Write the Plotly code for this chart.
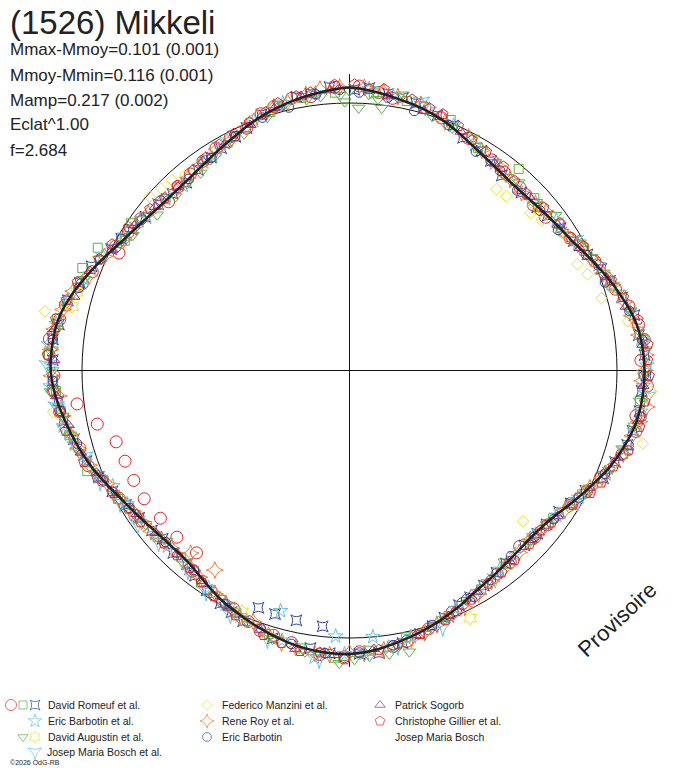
import plotly.graph_objects as go

W, H = 688, 768

# --- fitted light curve (phase angle in degrees, radius relative to the mean circle) ---
fit_theta = [0, 5, 10, 15, 20, 25, 30, 35, 40, 45, 50, 55, 60, 65, 70, 75, 80, 85,
             90, 95, 100, 105, 110, 115, 120, 125, 130, 135, 140, 145, 150, 155, 160, 165,
             170, 175, 180, 185, 190, 195, 200, 205, 210, 215, 220, 225, 230, 235, 240, 245,
             250, 255, 260, 265, 270, 275, 280, 285, 290, 295, 300, 305, 310, 315, 320, 325,
             330, 335, 340, 345, 350, 355, 360]
fit_r = [1.058, 1.047, 1.032, 1.018, 1.000, 0.976, 0.953, 0.937, 0.927, 0.927, 0.935, 0.947,
         0.964, 0.992, 1.024, 1.055, 1.084, 1.098, 1.103, 1.100, 1.090, 1.068, 1.040, 1.005,
         0.972, 0.942, 0.925, 0.922, 0.927, 0.937, 0.950, 0.972, 0.994, 1.014, 1.032, 1.050,
         1.060, 1.058, 1.050, 1.035, 1.017, 0.998, 0.979, 0.955, 0.937, 0.935, 0.942, 0.957,
         0.976, 1.003, 1.032, 1.057, 1.080, 1.103, 1.117, 1.115, 1.105, 1.078, 1.043, 1.008,
         0.976, 0.955, 0.940, 0.934, 0.935, 0.945, 0.961, 0.980, 1.002, 1.020, 1.036, 1.048,
         1.058]

# --- observations (angle deg, relative radius) ---
romeuf_circ_theta = [2, 9, 16, 27, 34, 43, 52, 59, 66, 73, 81, 88, 93, 99, 107, 113, 121, 128,
                     136, 144, 151, 157, 163, 171, 178, 186, 192, 199, 206, 212, 218, 236, 246,
                     254, 262, 269, 276, 283, 291, 298, 306, 313, 321, 329, 337, 344, 352,
                     220, 226, 232, 238, 243, 248, 253, 258, 263, 297,
                     6, 20, 38, 48, 62, 77, 84, 102, 117, 132, 140, 154, 168, 181, 196, 202,
                     209, 241, 250, 266, 273, 280, 288, 302, 317, 325, 333, 341, 348, 357]
romeuf_circ_r = [1.064, 1.030, 1.022, 0.975, 0.950, 0.935, 0.930, 0.962, 1.004, 1.040, 1.094,
                 1.090, 1.115, 1.084, 1.066, 1.020, 0.965, 0.938, 0.915, 0.940, 0.962, 0.982,
                 1.010, 1.045, 1.052, 1.068, 1.040, 1.028, 0.990, 0.975, 0.952, 0.968, 1.010,
                 1.050, 1.095, 1.105, 1.128, 1.090, 1.030, 0.990, 0.965, 0.925, 0.945, 0.970,
                 0.984, 1.026, 1.034,
                 0.890, 0.897, 0.897, 0.905, 0.905, 0.905, 0.912, 0.964, 1.026, 0.967,
                 1.045, 1.005, 0.940, 0.925, 0.985, 1.072, 1.108, 1.095, 0.995, 0.932, 0.935,
                 0.968, 1.035, 1.070, 1.030, 1.012, 0.985, 0.985, 1.040, 1.110, 1.125, 1.100,
                 1.050, 0.975, 0.940, 0.955, 0.980, 1.015, 1.040, 1.060]

romeuf_sq_theta = [5, 22, 40, 47, 63, 84, 96, 118, 133, 149, 168, 183, 197, 215, 229, 241, 249,
                   257, 266, 273, 287, 291, 296, 304, 326, 343, 357,
                   12, 30, 55, 72, 90, 107, 126, 141, 158, 176, 190, 205, 222, 235, 262, 280,
                   300, 313, 334, 350]
romeuf_sq_r = [1.040, 1.010, 0.984, 0.945, 0.985, 1.105, 1.092, 0.985, 0.930, 0.955, 1.020,
               1.075, 1.030, 0.968, 0.950, 0.990, 1.050, 1.075, 1.100, 1.125, 1.060, 1.070,
               1.047, 0.985, 0.950, 1.010, 1.040,
               1.030, 0.960, 0.955, 1.030, 1.110, 1.070, 0.940, 0.930, 0.990, 1.050, 1.055,
               1.000, 0.940, 0.960, 1.090, 1.110, 0.970, 0.940, 0.975, 1.035]

romeuf_xs_theta = [1, 8, 14, 19, 26, 31, 38, 49, 56, 64, 71, 79, 87, 94, 102, 109, 117, 124,
                   131, 141, 148, 155, 162, 169, 174, 181, 188, 196, 203, 209, 217, 224, 231,
                   239, 247, 256, 264, 272, 279, 288, 297, 303, 311, 319, 327, 334, 341, 349,
                   356, 186, 192, 197, 201,
                   4, 11, 23, 34, 44, 52, 60, 68, 75, 83, 91, 98, 105, 113, 121, 128, 135,
                   144, 152, 159, 165, 178, 184, 206, 213, 220, 228, 235, 243, 251, 260, 268,
                   276, 284, 292, 300, 307, 315, 323, 330, 337, 345, 352]
romeuf_xs_r = [1.050, 1.045, 1.030, 1.008, 0.968, 0.958, 0.925, 0.930, 0.952, 0.990, 1.030,
               1.085, 1.105, 1.095, 1.082, 1.050, 0.990, 0.945, 0.930, 0.928, 0.948, 0.968,
               1.005, 1.038, 1.062, 1.070, 1.048, 1.042, 1.018, 0.995, 0.960, 0.948, 0.950,
               0.975, 1.018, 1.062, 1.095, 1.110, 1.100, 1.060, 1.000, 0.968, 0.948, 0.930,
               0.950, 0.972, 1.012, 1.042, 1.062, 0.962, 0.955, 0.952, 0.950,
               1.058, 1.038, 0.995, 0.945, 0.925, 0.940, 0.968, 1.015, 1.055, 1.090, 1.110,
               1.095, 1.075, 1.030, 0.965, 0.935, 0.925, 0.935, 0.960, 0.990, 1.020, 1.060,
               1.060, 1.005, 0.980, 0.945, 0.940, 0.960, 0.995, 1.040, 1.085, 1.110, 1.115,
               1.085, 1.040, 0.985, 0.955, 0.935, 0.940, 0.960, 0.985, 1.025, 1.045]

barbotin_al_theta = [4, 17, 29, 41, 54, 67, 78, 89, 98, 106, 119, 132, 143, 156, 167, 177, 187,
                     194, 204, 213, 226, 235, 244, 251, 259, 267, 275, 284, 295, 307, 318, 332,
                     346, 196, 175, 183,
                     9, 23, 35, 47, 61, 72, 84, 93, 102, 112, 125, 138, 150, 161, 172, 181,
                     208, 219, 230, 239, 247, 255, 263, 271, 279, 289, 301, 313, 325, 339, 353]
barbotin_al_r = [1.055, 1.020, 0.965, 0.935, 0.955, 1.010, 1.070, 1.112, 1.100, 1.070, 0.980,
                 0.925, 0.932, 0.975, 1.022, 1.060, 1.080, 1.040, 1.005, 0.968, 0.945, 0.965,
                 0.985, 1.045, 1.090, 1.120, 1.130, 1.085, 1.018, 0.950, 0.930, 0.975, 1.030,
                 0.935, 1.000, 0.995,
                 1.040, 0.995, 0.945, 0.930, 0.975, 1.035, 1.095, 1.100, 1.090, 1.035, 0.945,
                 0.925, 0.955, 1.000, 1.045, 1.060, 0.990, 0.955, 0.950, 0.970, 1.020, 1.065,
                 1.100, 1.115, 1.110, 1.050, 0.980, 0.940, 0.950, 1.000, 1.045]

augustin_tri_theta = [0, 6, 11, 18, 23, 28, 35, 42, 48, 53, 61, 69, 74, 82, 91, 101, 111, 122,
                      134, 147, 159, 170, 179, 182, 189, 202, 211, 221, 233, 242, 253, 261, 270,
                      278, 289, 299, 302, 309, 315, 323, 328, 336, 342, 351, 358, 2, 7, 359,
                      168, 172,
                      4, 15, 31, 39, 57, 65, 78, 86, 96, 106, 116, 128, 141, 153, 164, 176,
                      186, 196, 207, 216, 227, 238, 248, 257, 266, 274, 283, 294, 306, 319,
                      332, 346, 354]
augustin_tri_r = [1.045, 1.020, 1.050, 1.000, 0.985, 0.985, 0.950, 0.945, 0.940, 0.965, 0.985,
                  1.018, 1.052, 1.090, 1.100, 1.085, 1.038, 0.968, 0.925, 0.945, 0.995, 1.048,
                  1.080, 1.095, 1.065, 1.015, 0.978, 0.950, 0.955, 0.998, 1.055, 1.085, 1.110,
                  1.105, 1.048, 0.980, 0.955, 0.925, 0.920, 0.925, 0.945, 0.968, 0.995, 1.025,
                  1.030, 0.982, 0.988, 1.005, 1.075, 1.070,
                  1.035, 1.030, 0.962, 0.930, 0.950, 1.000, 1.075, 1.110, 1.090, 1.060, 1.000,
                  0.935, 0.920, 0.965, 1.025, 1.070, 1.070, 1.045, 0.990, 0.960, 0.935, 0.975,
                  1.025, 1.070, 1.120, 1.115, 1.090, 1.025, 0.960, 0.925, 0.960, 1.020, 1.030]

augustin_star_theta = [283, 204, 154, 286, 50]
augustin_star_r = [1.064, 0.987, 1.030, 1.060, 0.930]

bosch_al_theta = [197, 206, 213, 219, 228, 234, 240, 246, 252, 258, 263, 271, 186, 170, 160,
                  145, 120, 95, 60, 15, 330]
bosch_al_r = [1.050, 1.015, 0.985, 0.960, 0.960, 0.978, 0.990, 1.020, 1.040, 1.085, 1.105,
              1.130, 1.085, 1.045, 1.020, 0.950, 0.985, 1.120, 0.975, 1.040, 0.965]

manzini_theta = [39, 42, 49, 52, 57, 65, 68, 74, 80, 94, 100, 104, 117, 131, 311, 314, 317,
                 320, 281, 262]
manzini_r = [0.873, 0.876, 0.898, 0.912, 0.945, 0.940, 0.960, 0.980, 1.057, 1.130, 1.090,
             1.130, 0.984, 0.860, 0.990, 0.978, 0.973, 0.954, 1.160, 1.118]

roy_theta = [3, 10, 21, 27, 36, 44, 51, 58, 65, 72, 79, 87, 92, 97, 103, 110, 116, 123, 129,
             137, 142, 150, 154, 161, 167, 173, 180, 187, 194, 201, 208, 216, 225, 231, 237,
             245, 250, 257, 265, 274, 282, 290, 300, 308, 316, 324, 333, 340, 347, 354, 214,
             221,
             7, 15, 31, 40, 48, 61, 69, 76, 83, 90, 100, 107, 113, 120, 133, 146, 157, 164,
             177, 184, 191, 197, 204, 211, 219, 228, 234, 241, 254, 261, 269, 278, 286, 295,
             304, 312, 320, 329, 337, 344, 351, 358]
roy_r = [1.060, 1.040, 0.995, 0.980, 0.945, 0.925, 0.945, 0.955, 0.995, 1.035, 1.075, 1.110,
         1.095, 1.120, 1.085, 1.045, 1.000, 0.960, 0.935, 0.930, 0.940, 0.965, 0.985, 1.005,
         1.030, 1.052, 1.055, 1.065, 1.050, 1.005, 0.985, 0.955, 0.940, 0.955, 0.965, 1.000,
         1.035, 1.070, 1.090, 1.120, 1.095, 1.035, 0.975, 0.955, 0.935, 0.950, 0.970, 1.010,
         1.030, 1.058, 0.900, 0.905,
         1.050, 1.030, 0.960, 0.935, 0.935, 0.975, 1.015, 1.060, 1.090, 1.105, 1.100, 1.070,
         1.025, 0.975, 0.925, 0.950, 0.990, 1.020, 1.060, 1.065, 1.055, 1.035, 1.010, 0.975,
         0.945, 0.945, 0.960, 0.985, 1.055, 1.085, 1.115, 1.115, 1.075, 1.010, 0.965, 0.945,
         0.940, 0.965, 0.990, 1.025, 1.045, 1.060]

barbotin_theta = [2, 14, 30, 43, 56, 71, 84, 99, 112, 126, 139, 153, 171, 185, 199, 218, 238,
                  255, 268, 287, 300, 312, 327, 341, 353, 347,
                  8, 22, 37, 50, 64, 78, 91, 105, 119, 132, 146, 162, 178, 192, 208, 227, 246,
                  262, 276, 294, 306, 320, 334, 358]
barbotin_r = [1.040, 1.000, 0.945, 0.920, 0.940, 1.010, 1.100, 1.105, 1.030, 0.945, 0.920,
              0.960, 1.040, 1.060, 1.020, 0.945, 0.970, 1.055, 1.110, 1.058, 0.985, 0.950,
              0.948, 1.000, 1.040, 1.009,
              1.030, 0.990, 0.935, 0.930, 0.985, 1.070, 1.100, 1.080, 0.980, 0.930, 0.945,
              1.000, 1.055, 1.045, 0.990, 0.940, 1.010, 1.090, 1.115, 1.020, 0.960, 0.935,
              0.975, 1.050]

sogorb_theta = [8, 25, 46, 62, 77, 93, 108, 125, 140, 158, 175, 191, 207, 223, 236, 248, 259,
                272, 285, 297, 310, 325, 338, 350,
                16, 35, 55, 70, 85, 100, 116, 133, 150, 166, 183, 199, 215, 230, 242, 253,
                265, 278, 291, 304, 317, 331, 344, 356]
sogorb_r = [1.035, 0.985, 0.935, 0.975, 1.060, 1.100, 1.055, 0.950, 0.930, 0.990, 1.045,
            1.060, 0.995, 0.940, 0.960, 1.020, 1.070, 1.105, 1.065, 0.995, 0.950, 0.955,
            0.990, 1.040,
            1.010, 0.945, 0.950, 1.020, 1.100, 1.095, 1.000, 0.930, 0.955, 1.020, 1.065,
            1.025, 0.960, 0.945, 0.990, 1.050, 1.100, 1.115, 1.040, 0.970, 0.940, 0.965,
            1.020, 1.050]

gillier_theta = [1, 7, 13, 20, 24, 32, 37, 45, 50, 55, 62, 67, 75, 80, 85, 91, 96, 101, 106,
                 114, 121, 127, 134, 139, 147, 152, 159, 165, 174, 181, 190, 198, 205, 211,
                 219, 227, 234, 243, 251, 258, 266, 273, 280, 288, 294, 303, 309, 317, 322,
                 330, 338, 345, 352, 357,
                 4, 17, 28, 41, 59, 71, 88, 99, 110, 117, 130, 143, 156, 170, 186, 194, 215,
                 223, 238, 247, 262, 277, 284, 298, 313, 326, 334, 342, 349]
gillier_r = [1.070, 1.060, 1.040, 1.020, 1.000, 0.965, 0.955, 0.935, 0.948, 0.960, 0.990,
             1.010, 1.060, 1.095, 1.120, 1.120, 1.110, 1.105, 1.085, 1.030, 0.975, 0.945,
             0.935, 0.940, 0.950, 0.970, 1.000, 1.020, 1.050, 1.080, 1.065, 1.040, 1.010,
             0.985, 0.950, 0.948, 0.965, 0.995, 1.050, 1.085, 1.110, 1.130, 1.115, 1.070,
             1.025, 0.985, 0.960, 0.945, 0.950, 0.975, 1.000, 1.035, 1.050, 1.070,
             1.055, 1.025, 0.975, 0.940, 0.965, 1.035, 1.115, 1.100, 1.050, 1.010, 0.930,
             0.945, 0.985, 1.040, 1.060, 1.050, 0.965, 0.945, 0.975, 1.025, 1.095, 1.120,
             1.090, 1.005, 0.945, 0.960, 0.985, 1.015, 1.045]

axis_extent = [1.108, 1.108]

title = "(1526) Mikkeli"
stats_lines = ["Mmax-Mmoy=0.101 (0.001)", "Mmoy-Mmin=0.116 (0.001)",
               "Mamp=0.217 (0.002)", "Eclat^1.00", "f=2.684"]

RED = "#e8222a"
GREEN = "#5cb444"
BLUE = "#3346a2"
CYAN = "#5ec6e2"
YELLOW = "#f2e21c"
ORANGE = "#f27a28"
PURPLE = "#a2287e"

series = [
    (romeuf_circ_theta, romeuf_circ_r, "circle-open", RED, 12),
    (romeuf_sq_theta, romeuf_sq_r, "square-open", GREEN, 9),
    (romeuf_xs_theta, romeuf_xs_r, "star-square-open", BLUE, 10),
    (barbotin_al_theta, barbotin_al_r, "star-open", CYAN, 11),
    (augustin_tri_theta, augustin_tri_r, "triangle-down-open", GREEN, 11),
    (augustin_star_theta, augustin_star_r, "hexagram-open", YELLOW, 11),
    (bosch_al_theta, bosch_al_r, "star-triangle-down-open", CYAN, 12),
    (manzini_theta, manzini_r, "diamond-open", YELLOW, 9),
    (roy_theta, roy_r, "star-diamond-open", ORANGE, 12),
    (barbotin_theta, barbotin_r, "octagon-open", BLUE, 10),
    (sogorb_theta, sogorb_r, "triangle-up-open", PURPLE, 10),
    (gillier_theta, gillier_r, "pentagon-open", RED, 11),
]

fig = go.Figure()

# axes through the centre
fig.add_trace(go.Scatterpolar(r=axis_extent, theta=[0, 180], mode="lines",
                              line=dict(color="#111", width=1), hoverinfo="skip"))
fig.add_trace(go.Scatterpolar(r=axis_extent, theta=[90, 270], mode="lines",
                              line=dict(color="#111", width=1), hoverinfo="skip"))

for th, rr, sym, col, size in series:
    fig.add_trace(go.Scatterpolar(
        r=rr, theta=th, mode="markers",
        marker=dict(symbol=sym, color=col, size=size, line=dict(color=col, width=1)),
    ))

fig.add_trace(go.Scatterpolar(r=fit_r, theta=fit_theta, mode="lines",
                              line=dict(color="#222", width=2.5, shape="spline")))

# --- legend drawn at the bottom on a hidden pixel axis ---
leg_x = [11, 23, 35, 35, 23, 35, 35, 207, 207, 207, 380, 380]
leg_y = [705, 705, 705, 721, 737, 737, 752, 705, 721, 737, 705, 721]
leg_sym = ["circle-open", "square-open", "star-square-open", "star-open",
           "triangle-down-open", "hexagram-open", "star-triangle-down-open",
           "diamond-open", "star-diamond-open", "octagon-open", "triangle-up-open",
           "pentagon-open"]
leg_col = [RED, GREEN, BLUE, CYAN, GREEN, YELLOW, CYAN, YELLOW, ORANGE, BLUE, PURPLE, RED]
leg_size = [11, 8, 9, 10, 9, 9, 10, 8, 10, 9, 9, 10]
fig.add_trace(go.Scatter(x=leg_x, y=leg_y, mode="markers", xaxis="x", yaxis="y",
                         marker=dict(symbol=leg_sym, color=leg_col, size=leg_size,
                                     line=dict(color=leg_col, width=1))))

legend_text = [
    ("David Romeuf et al.", 46, 705), ("Eric Barbotin et al.", 46, 721),
    ("David Augustin et al.", 46, 737), ("Josep Maria Bosch et al.", 45, 752),
    ("Federico Manzini et al.", 220, 705), ("Rene Roy et al.", 220, 721),
    ("Eric Barbotin", 220, 737), ("Patrick Sogorb", 393, 705),
    ("Christophe Gillier et al.", 393, 721), ("Josep Maria Bosch", 393, 737),
]

annotations = []
for txt, x, y in legend_text:
    annotations.append(dict(text=txt, x=x / W, y=1 - y / H, xref="paper", yref="paper",
                            xanchor="left", yanchor="middle", showarrow=False,
                            font=dict(size=10.5, color="#222")))
annotations.append(dict(text="©2026 OdG-RB", x=8 / W, y=1 - 762 / H, xref="paper",
                        yref="paper", xanchor="left", yanchor="middle", showarrow=False,
                        font=dict(size=7, color="#222")))
annotations.append(dict(text=title, x=8 / W, y=1 - 22 / H, xref="paper", yref="paper",
                        xanchor="left", yanchor="middle", showarrow=False,
                        font=dict(size=33, color="#222")))
for i, line in enumerate(stats_lines):
    annotations.append(dict(text=line, x=8 / W, y=1 - (50 + 25 * i) / H, xref="paper",
                            yref="paper", xanchor="left", yanchor="middle", showarrow=False,
                            font=dict(size=17, color="#222")))
annotations.append(dict(text="Provisoire", x=617 / W, y=1 - 619 / H, xref="paper",
                        yref="paper", xanchor="center", yanchor="middle", showarrow=False,
                        textangle=-43, font=dict(size=22, color="#222")))

fig.update_layout(
    width=W, height=H,
    margin=dict(l=0, r=0, t=0, b=0),
    paper_bgcolor="white",
    plot_bgcolor="rgba(0,0,0,0)",
    showlegend=False,
    font=dict(family="Liberation Sans, Arial, sans-serif", color="#222"),
    polar=dict(
        domain=dict(x=[28.5 / W, 670.5 / W], y=[76.5 / H, 718.5 / H]),
        bgcolor="rgba(0,0,0,0)",
        radialaxis=dict(range=[0, 1.2], showline=False, showticklabels=False, ticks="",
                        tickvals=[1.0], showgrid=True, gridcolor="#111", gridwidth=1),
        angularaxis=dict(rotation=90, direction="clockwise", visible=False),
    ),
    xaxis=dict(domain=[0, 1], range=[0, W], visible=False, fixedrange=True),
    yaxis=dict(domain=[0, 78 / H], range=[768, 690], visible=False, fixedrange=True),
    annotations=annotations,
)

# drop the default page margin so the figure sits at the top-left corner
fig.write_html("out.html", config={"displayModeBar": False},
               post_script="document.body.style.margin='0';")
